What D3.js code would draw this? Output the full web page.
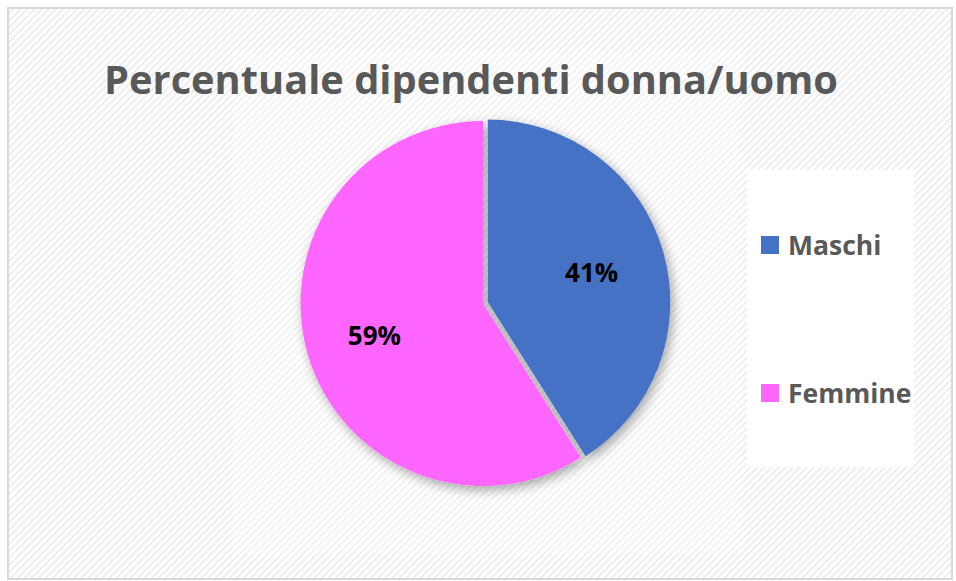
<!DOCTYPE html>
<html>
<head>
<meta charset="utf-8">
<script src="https://cdn.jsdelivr.net/npm/d3@7"></script>
<style>
  body { margin: 0; background: #fff; }
  svg { display: block; }
</style>
</head>
<body>
<div id="chart"></div>
<script>
// data
const categories = ["Maschi", "Femmine"];
const values = [41, 59];
const pctLabels = ["41%", "59%"];
const colors = ["#4472C4", "#FF66FF"];

const W = 956, H = 581;
const svg = d3.select("#chart").append("svg")
  .attr("width", W).attr("height", H);

const defs = svg.append("defs");

// diagonal hatch background
const pat = defs.append("pattern")
  .attr("id", "hatch")
  .attr("patternUnits", "userSpaceOnUse")
  .attr("width", 5).attr("height", 5)
  .attr("patternTransform", "rotate(-45)");
pat.append("rect").attr("width", 5).attr("height", 5).attr("fill", "#ffffff");
pat.append("rect").attr("width", 5).attr("height", 2).attr("fill", "#eeeeee");

// soft shadow for pie
const filt = defs.append("filter").attr("id", "shadow")
  .attr("x", "-20%").attr("y", "-20%").attr("width", "140%").attr("height", "140%");
filt.append("feGaussianBlur").attr("in", "SourceAlpha").attr("stdDeviation", 6);
filt.append("feOffset").attr("dx", 3).attr("dy", 4).attr("result", "b");
filt.append("feComponentTransfer").append("feFuncA").attr("type", "linear").attr("slope", 0.35);
const merge = filt.append("feMerge");
merge.append("feMergeNode");
merge.append("feMergeNode").attr("in", "SourceGraphic");

// chart frame
svg.append("rect")
  .attr("x", 8).attr("y", 8).attr("width", W - 12).attr("height", H - 10)
  .attr("fill", "url(#hatch)")
  .attr("stroke", "#d9d9d9").attr("stroke-width", 2);

// plot area (slightly lighter)
svg.append("rect")
  .attr("x", 233).attr("y", 52).attr("width", 507).attr("height", 502)
  .attr("fill", "#ffffff").attr("opacity", 0.25);

// title
const title = svg.append("text")
  .attr("x", 471).attr("y", 94)
  .attr("text-anchor", "middle")
  .attr("font-family", "'Open Sans', sans-serif")
  .attr("font-weight", "bold")
  .attr("font-size", 40)
  .attr("fill", "#595959")
  .text("Percentuale dipendenti donna/uomo");
const tw = title.node().getComputedTextLength();
title.attr("font-size", 40 * 734 / tw);

// pie
const cx = 483, cy = 303.5, r = 182.5;
const pie = d3.pie().sort(null).value(d => d)(values);
const arc = d3.arc().innerRadius(0).outerRadius(r);
const g = svg.append("g").attr("transform", `translate(${cx},${cy})`)
  .attr("filter", "url(#shadow)");

const explode = [5, 0];
g.selectAll("path")
  .data(pie)
  .join("path")
  .attr("d", arc)
  .attr("fill", (d, i) => colors[i])
  .attr("transform", (d, i) => {
    const a = (d.startAngle + d.endAngle) / 2;
    return `translate(${Math.sin(a) * explode[i]},${-Math.cos(a) * explode[i]})`;
  });

// percentage labels
const labelArc = d3.arc().innerRadius(r * 0.62).outerRadius(r * 0.62);
svg.append("g").attr("transform", `translate(${cx},${cy})`)
  .selectAll("text")
  .data(pie)
  .join("text")
  .attr("x", d => labelArc.centroid(d)[0])
  .attr("y", d => labelArc.centroid(d)[1])
  .attr("text-anchor", "middle")
  .attr("dominant-baseline", "central")
  .attr("font-family", "'Open Sans', sans-serif")
  .attr("font-weight", "bold")
  .attr("font-size", 26)
  .attr("fill", "#000")
  .text((d, i) => pctLabels[i]);

// legend
svg.append("rect")
  .attr("x", 747).attr("y", 170).attr("width", 167).attr("height", 297)
  .attr("fill", "#ffffff");
const leg = svg.append("g").selectAll("g")
  .data(categories)
  .join("g")
  .attr("transform", (d, i) => `translate(761,${236 + i * 148})`);
leg.append("rect").attr("width", 18).attr("height", 18)
  .attr("fill", (d, i) => colors[i]);
leg.append("text")
  .attr("x", 27).attr("y", 19)
  .attr("font-family", "'Open Sans', sans-serif")
  .attr("font-weight", "bold")
  .attr("font-size", 26.5)
  .attr("fill", "#595959")
  .text(d => d);
</script>
</body>
</html>
